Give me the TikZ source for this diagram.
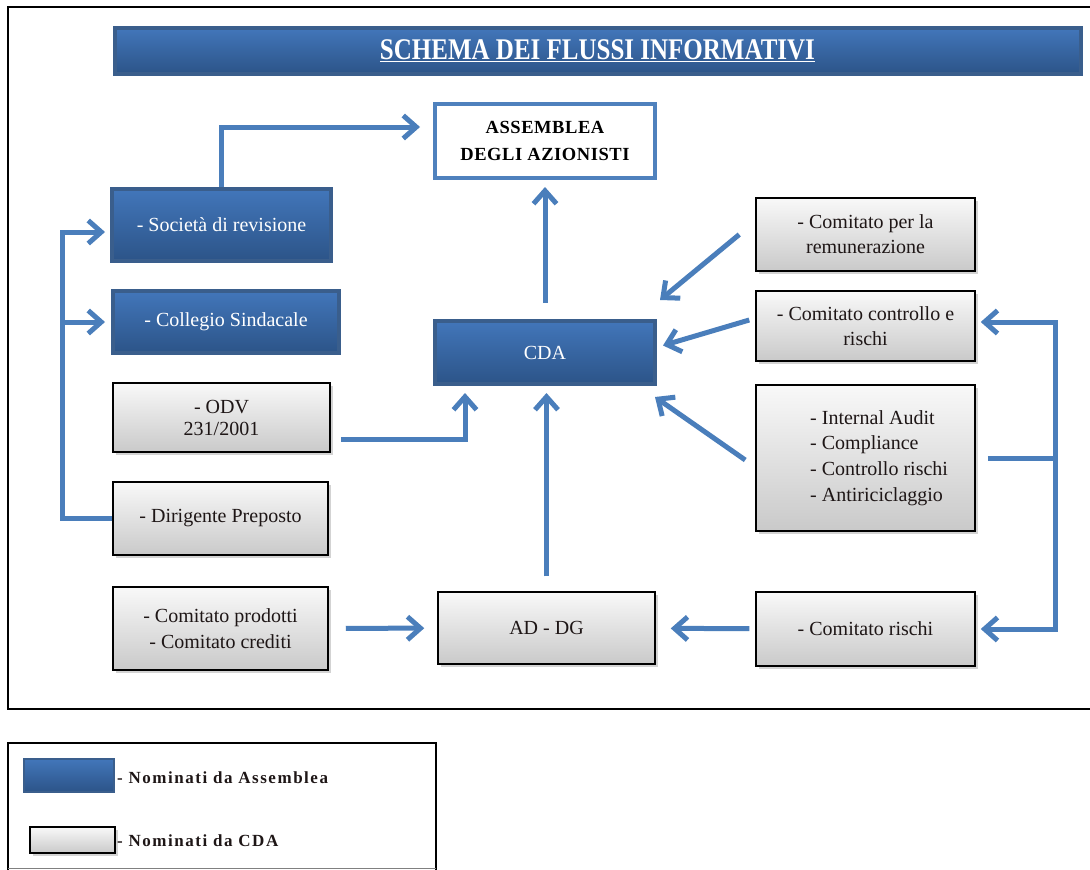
\documentclass[tikz,border=0pt]{standalone}
\usepackage{graphicx}
\usepackage{fontspec}
\setmainfont{Liberation Serif}
\newfontfamily\legendfont[LetterSpace=9]{Liberation Serif}
\newfontfamily\assemfont[LetterSpace=3]{Liberation Serif}
\usetikzlibrary{arrows.meta,shadows}
\definecolor{bluerim}{RGB}{58,94,140}
\definecolor{bluetop}{RGB}{66,118,186}
\definecolor{bluebot}{RGB}{44,84,136}
\definecolor{flowblue}{RGB}{74,126,187}
\definecolor{assemrim}{RGB}{79,129,189}
\definecolor{txtdark}{RGB}{30,22,22}
\begin{document}
\begin{tikzpicture}[x=1pt,y=-1pt]
	\tikzset{
	blubox/.style={draw=bluerim, line width=4pt, top color=bluetop, bottom color=bluebot, text=white, inner sep=0pt, align=center, font=\fontsize{20}{25}\selectfont},
	grybox/.style={draw=black, line width=1.5pt, top color=gray!5, bottom color=gray!42, drop shadow={opacity=.35, shadow xshift=3pt, shadow yshift=-3pt}, inner sep=0pt, text=txtdark, align=center, font=\fontsize{20}{25}\selectfont},
	flow/.style={draw=flowblue, line width=5pt, -{Straight Barb[length=13pt,width=23pt]}},
	frame/.style={draw=black, line width=2.5pt}
}
\useasboundingbox (0,0) rectangle (1090,870);

\draw[frame] (1090,7) -- (8,7) -- (8,709) -- (1090,709);
\draw[frame] (8,870) -- (8,743) -- (436,743) -- (436,870);
\draw[gray, line width=1pt] (8,868) -- (436,868);

\node[blubox, minimum width=966pt, minimum height=46pt, font=\fontsize{25}{28}\bfseries] (ttl) at (597.5,51)
	{\scalebox{1}[1.2]{\underline{SCHEMA DEI FLUSSI INFORMATIVI}}};

\node[draw=assemrim, line width=4pt, fill=white, minimum width=220pt, minimum height=74pt, align=center, font=\fontsize{18.5}{27}\assemfont\bfseries] (assem) at (545,141)
	{ASSEMBLEA\\DEGLI AZIONISTI};

\node[blubox, minimum width=219pt, minimum height=72pt] (soc) at (221.5,225) {- Società di revisione};
\node[blubox, minimum width=226pt, minimum height=62pt] (coll) at (226,322) {- Collegio Sindacale};
\node[grybox, minimum width=217pt, minimum height=69pt, font=\fontsize{20}{22}\selectfont] (odv) at (221.5,417.5) {- ODV\\231/2001};
\node[grybox, minimum width=215pt, minimum height=73pt] (dir) at (220.5,518.5) {- Dirigente Preposto};
\node[grybox, minimum width=215pt, minimum height=83pt, font=\fontsize{20}{26}\selectfont] (prod) at (220.5,628.5) {- Comitato prodotti\\- Comitato crediti};

\node[blubox, minimum width=220pt, minimum height=63pt] (cda) at (545,352.5) {CDA};
\node[grybox, minimum width=217pt, minimum height=72pt] (addg) at (546.5,628) {AD - DG};

\node[grybox, minimum width=219pt, minimum height=73pt] (remun) at (865.5,234.5) {- Comitato per la\\remunerazione};
\node[grybox, minimum width=219pt, minimum height=70pt] (ctrl) at (865.5,326) {- Comitato controllo e\\rischi};
\node[grybox, minimum width=219pt, minimum height=146pt] (audit) at (865.5,458) {};
\node[align=left, anchor=west, inner sep=0pt, text=txtdark, font=\fontsize{20}{25.7}\selectfont] (audittxt) at (810,458)
	{- Internal Audit\\- Compliance\\- Controllo rischi\\- Antiriciclaggio};
\node[grybox, minimum width=219pt, minimum height=74pt] (rischi) at (865.5,629) {- Comitato rischi};

\coordinate (lbus) at (62,0);
\coordinate (rbus) at (1055,0);

\draw[flow] (soc.north) |- ([xshift=-13pt,yshift=14pt]assem.west);
\draw[flow, shorten <=16pt, shorten >=7pt] (cda.north) -- (cda.north |- assem.south);
\draw[flow] (dir.west) -- (dir.west -| lbus) |- ([xshift=-5pt,yshift=-7pt]soc.west);
\draw[flow] (coll.west -| lbus) -- ([xshift=-6pt]coll.west);
\draw[flow] ([xshift=10pt,yshift=-22pt]odv.east) -| ([xshift=-80pt,yshift=-7pt]cda.south);
\draw[flow, shorten <=15pt, shorten >=7pt] (addg.north) -- (addg.north |- cda.south);
\draw[flow] ([xshift=-16pt]remun.west) -- ([xshift=3pt,yshift=19pt]cda.north east);
\draw[flow] ([xshift=-6pt,yshift=6pt]ctrl.west) -- ([xshift=6pt,yshift=7pt]cda.east);
\draw[flow] ([xshift=-10pt,yshift=-2pt]audit.west) -- ([xshift=-2pt,yshift=-11pt]cda.south east);
\draw[flow] ([xshift=12pt]audit.east) -- (audit.east -| rbus) |- ([xshift=5pt,yshift=4pt]ctrl.east);
\draw[flow] (audit.east -| rbus) |- ([xshift=5pt]rischi.east);
\draw[flow, shorten <=6pt, shorten >=15pt] (rischi) -- (addg);
\draw[flow, shorten <=17pt, shorten >=13pt] (prod) -- (addg);

\node[blubox, line width=2.5pt, minimum width=90pt, minimum height=33pt] (keyblu) at (69,775.5) {};
\node[anchor=west, inner sep=0pt, text=txtdark, font=\fontsize{17}{19}\legendfont\bfseries] (keybluetxt) at (117,778) {- Nominati da Assemblea};
\node[grybox, minimum width=85pt, minimum height=26pt] (keygry) at (72.5,840) {};
\node[anchor=west, inner sep=0pt, text=txtdark, font=\fontsize{17}{19}\legendfont\bfseries] (keygrytxt) at (117,841) {- Nominati da CDA};
\end{tikzpicture}
\end{document}
